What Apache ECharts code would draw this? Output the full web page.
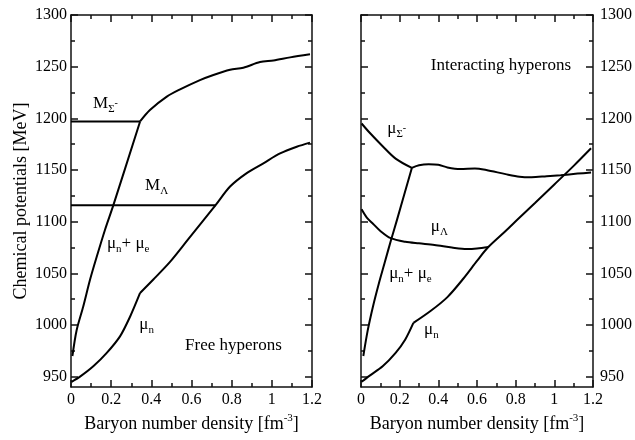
<!DOCTYPE html>
<html>
<head>
<meta charset="utf-8">
<script src="https://cdn.jsdelivr.net/npm/echarts@6/dist/echarts.min.js"></script>
<style>html,body{margin:0;padding:0;background:#fff}#c{width:635px;height:440px}</style>
</head>
<body>
<div id="c"></div>
<script>
// ---------- data ----------
const xMin = 0, xMax = 1.2, xStep = 0.2;
const yMin = 940, yMax = 1300;
const yMajorTicks = [950, 1000, 1050, 1100, 1150, 1200, 1250, 1300];
const yMinorTicks = [975, 1025, 1075, 1125, 1175, 1225, 1275];

// Free hyperons (left panel)
const freeMSigma = [[0, 1197], [0.344, 1197]];
const freeMLambda = [[0, 1116], [0.72, 1116]];
const freeMuNMuE = [[0.007, 970], [0.028, 995], [0.061, 1018], [0.095, 1044], [0.128, 1066], [0.169, 1092], [0.211, 1116], [0.344, 1197]];
const freeMuSigma = [[0.344, 1197], [0.393, 1208], [0.477, 1221], [0.543, 1228], [0.642, 1237], [0.709, 1242], [0.792, 1247], [0.858, 1249], [0.941, 1254.5], [1.008, 1256], [1.091, 1259], [1.19, 1262]];
const freeMuN1 = [[0.003, 945], [0.045, 950], [0.111, 960], [0.178, 973], [0.244, 989], [0.294, 1008], [0.344, 1031]];
const freeMuN2 = [[0.344, 1031], [0.41, 1044], [0.493, 1061], [0.584, 1083], [0.72, 1116], [0.792, 1134], [0.875, 1147], [0.958, 1156.5], [1.041, 1166], [1.124, 1172.5], [1.19, 1176.5]];

// Interacting hyperons (right panel)
const intMuSigma1 = [[0.003, 1195], [0.045, 1186], [0.112, 1173], [0.179, 1161], [0.263, 1152]];
const intMuSigma2 = [[0.263, 1152], [0.30, 1154.5], [0.35, 1155.5], [0.40, 1155], [0.447, 1152.5], [0.514, 1151], [0.589, 1151.5], [0.648, 1150], [0.748, 1146], [0.82, 1143.5], [0.882, 1143], [0.96, 1144], [1.033, 1145], [1.12, 1146.5], [1.19, 1147.5]];
const intMuNMuE = [[0.012, 970], [0.035, 995], [0.062, 1018], [0.092, 1040], [0.122, 1060], [0.155, 1082], [0.185, 1101], [0.263, 1152]];
const intMuLambda = [[0.003, 1112], [0.03, 1104], [0.062, 1098], [0.1, 1091], [0.154, 1084], [0.229, 1080.5], [0.3, 1079], [0.38, 1077.5], [0.47, 1075], [0.547, 1073.5], [0.6, 1074], [0.66, 1075.5]];
const intMuN1 = [[0.003, 945], [0.045, 951], [0.112, 960], [0.179, 973], [0.229, 986], [0.271, 1002]];
const intMuN2 = [[0.271, 1002], [0.363, 1014], [0.447, 1027], [0.53, 1045], [0.6, 1062], [0.656, 1075], [0.748, 1091], [0.815, 1103], [0.9, 1118], [1.0, 1136], [1.1, 1154], [1.19, 1171]];

// ---------- texts ----------
const xTitle = '{n|Baryon number density [fm}{s|-3}{n|]}';
const yTitle = 'Chemical potentials [MeV]';

// annotation anchors (data coordinates, left edge / vertical middle)
const annotations = [
  {grid: 0, at: [0.110, 1214.5], text: '{a|M}{b|Σ}{c|-}'},
  {grid: 0, at: [0.369, 1135], text: '{a|M}{b|Λ}'},
  {grid: 0, at: [0.179, 1078.5], text: '{a|μ}{b|n}{a|+ μ}{b|e}'},
  {grid: 0, at: [0.340, 1000], text: '{a|μ}{b|n}'},
  {grid: 0, at: [0.568, 980], text: '{t|Free hyperons}'},
  {grid: 1, at: [0.361, 1251.5], text: '{t|Interacting hyperons}'},
  {grid: 1, at: [0.136, 1190.5], text: '{a|μ}{b|Σ}{c|-}'},
  {grid: 1, at: [0.361, 1095], text: '{a|μ}{b|Λ}'},
  {grid: 1, at: [0.146, 1050], text: '{a|μ}{b|n}{a|+ μ}{b|e}'},
  {grid: 1, at: [0.326, 996], text: '{a|μ}{b|n}'}
];

// ---------- chart ----------
const FONT = "'Liberation Serif', 'Times New Roman', serif";
const AX = '#111';
const chart = echarts.init(document.getElementById('c'), null, {renderer: 'canvas'});

function xAx(grid, pos, withLabels) {
  return {
    type: 'value', gridIndex: grid, position: pos, min: xMin, max: xMax, interval: xStep,
    axisLine: {show: true, onZero: false, lineStyle: {color: AX, width: 1.5}},
    axisTick: {show: true, inside: true, length: 7, lineStyle: {color: AX, width: 1.5}},
    minorTick: {show: true, splitNumber: 2, length: 4, lineStyle: {color: AX, width: 1.5}},
    splitLine: {show: false}, minorSplitLine: {show: false},
    axisLabel: {show: withLabels, color: '#000', fontFamily: FONT, fontSize: 16, margin: 5,
                formatter: function (v) { return String(+v.toFixed(1)); }},
    name: withLabels ? xTitle : '',
    nameLocation: 'middle', nameGap: 25,
    nameTextStyle: {rich: {
      n: {fontFamily: FONT, fontSize: 18, color: '#000', lineHeight: 22},
      s: {fontFamily: FONT, fontSize: 11, color: '#000', lineHeight: 11, verticalAlign: 'top'}
    }}
  };
}
function yAx(grid, pos, ticks, len, withLabels, withLine, name) {
  return {
    type: 'value', gridIndex: grid, position: pos, min: yMin, max: yMax,
    axisLine: {show: withLine, onZero: false, lineStyle: {color: AX, width: 1.5}},
    axisTick: {show: true, inside: true, length: len, customValues: ticks, lineStyle: {color: AX, width: 1.5}},
    axisLabel: {show: withLabels, customValues: ticks, color: '#000', fontFamily: FONT, fontSize: 16,
                margin: pos === 'left' ? 4 : 7,
                formatter: function (v) { return String(Math.round(v)); }},
    splitLine: {show: false},
    name: name || '', nameLocation: 'middle', nameGap: 41,
    nameTextStyle: {fontFamily: FONT, fontSize: 18, color: '#000'}
  };
}
function ln(data, g) {
  return {
    type: 'line', data: data, xAxisIndex: g * 2, yAxisIndex: g * 4,
    showSymbol: false, symbol: 'none', smooth: 0.3, silent: true,
    lineStyle: {color: '#000', width: 2}
  };
}

const option = {
  animation: false,
  backgroundColor: '#fff',
  grid: [
    {left: 71, top: 15, width: 241, height: 372},
    {left: 361, top: 15, width: 239, height: 372}
  ],
  xAxis: [
    xAx(0, 'bottom', true), xAx(0, 'top', false),
    xAx(1, 'bottom', true), xAx(1, 'top', false)
  ],
  yAxis: [
    yAx(0, 'left', yMajorTicks, 7, true, true, yTitle),
    yAx(0, 'right', yMajorTicks, 7, false, true),
    yAx(0, 'left', yMinorTicks, 4, false, false),
    yAx(0, 'right', yMinorTicks, 4, false, false),
    yAx(1, 'left', yMajorTicks, 7, false, true),
    yAx(1, 'right', yMajorTicks, 7, true, true),
    yAx(1, 'left', yMinorTicks, 4, false, false),
    yAx(1, 'right', yMinorTicks, 4, false, false)
  ],
  series: [
    ln(freeMSigma, 0), ln(freeMLambda, 0), ln(freeMuNMuE, 0), ln(freeMuSigma, 0), ln(freeMuN1, 0), ln(freeMuN2, 0),
    ln(intMuSigma1, 1), ln(intMuSigma2, 1), ln(intMuNMuE, 1), ln(intMuLambda, 1), ln(intMuN1, 1), ln(intMuN2, 1)
  ]
};
chart.setOption(option);

const rich = {
  a: {fontFamily: FONT, fontSize: 17, color: '#000', lineHeight: 22},
  b: {fontFamily: FONT, fontSize: 11, color: '#000', lineHeight: 11, verticalAlign: 'bottom'},
  c: {fontFamily: FONT, fontSize: 10, color: '#000', lineHeight: 10, verticalAlign: 'middle'},
  t: {fontFamily: FONT, fontSize: 17, color: '#000', lineHeight: 22}
};
const graphics = annotations.map(function (an) {
  const p = chart.convertToPixel({gridIndex: an.grid}, an.at);
  return {
    type: 'text', x: p[0], y: p[1], silent: true,
    style: {text: an.text, rich: rich, align: 'left', verticalAlign: 'middle',
            textAlign: 'left', textVerticalAlign: 'middle', fill: '#000'}
  };
});
chart.setOption({graphic: graphics});
</script>
</body>
</html>
